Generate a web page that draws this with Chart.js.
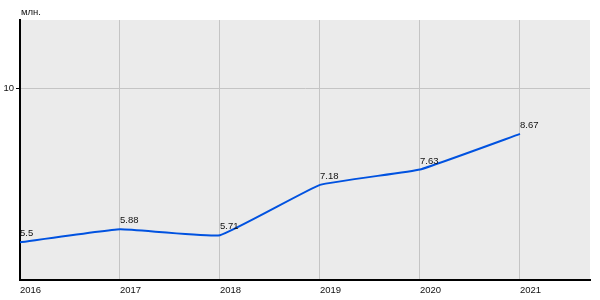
<!DOCTYPE html>
<html>
<head>
<meta charset="utf-8">
<script src="https://cdn.jsdelivr.net/npm/chart.js@4/dist/chart.umd.min.js"></script>
<style>
  html, body { margin: 0; padding: 0; background: #fff; }
  #wrap { width: 600px; height: 300px; }
</style>
</head>
<body>
<div id="wrap"><canvas id="chart" width="600" height="300"></canvas></div>
<script>
const YEARS = [2016, 2017, 2018, 2019, 2020, 2021];
const VALUES = [5.5, 5.88, 5.71, 7.18, 7.63, 8.67];
const LABELS = ['5.5', '5.88', '5.71', '7.18', '7.63', '8.67'];
const Y_TICKS = [10];
const UNIT = 'млн.';

const FONT = '"Liberation Sans", Arial, sans-serif';

// plot background + point labels + unit caption
const extras = {
  id: 'extras',
  beforeDraw(chart) {
    const { ctx, chartArea: a } = chart;
    ctx.save();
    ctx.fillStyle = '#ebebeb';
    ctx.fillRect(a.left, a.top, a.right - a.left, a.bottom - a.top);
    ctx.restore();
  },
  afterDatasetsDraw(chart) {
    const { ctx } = chart;
    const meta = chart.getDatasetMeta(0);
    ctx.save();
    ctx.font = '9.5px ' + FONT;
    ctx.fillStyle = '#111';
    ctx.textAlign = 'left';
    ctx.textBaseline = 'alphabetic';
    meta.data.forEach((pt, i) => {
      ctx.fillText(LABELS[i], pt.x, pt.y - 6);
    });
    ctx.fillText(UNIT, chart.chartArea.left + 1, 15);
    ctx.restore();
  },
};

new Chart(document.getElementById('chart'), {
  type: 'line',
  data: {
    datasets: [{
      data: YEARS.map((y, i) => ({ x: y, y: VALUES[i] })),
      borderColor: '#0052e0',
      borderWidth: 2,
      pointRadius: 0,
      tension: 0.1,
      fill: false,
    }],
  },
  options: {
    responsive: false,
    animation: false,
    layout: { padding: { top: 20, right: 10, left: 0, bottom: 0 } },
    plugins: { legend: { display: false }, tooltip: { enabled: false } },
    scales: {
      x: {
        type: 'linear',
        min: 2016,
        max: 2021.7,
        afterBuildTicks: s => { s.ticks = YEARS.map(v => ({ value: v })); },
        afterFit: s => { s.height = 20; },
        ticks: {
          align: 'start',
          padding: 5,
          color: '#111',
          font: { family: FONT, size: 9.5 },
          callback: v => String(v),
        },
        grid: { color: '#c4c4c4', lineWidth: 1, drawTicks: false },
        border: { color: '#000', width: 2 },
      },
      y: {
        min: 4.4,
        max: 12,
        afterBuildTicks: s => { s.ticks = Y_TICKS.map(v => ({ value: v })); },
        afterFit: s => { s.width = 20; },
        ticks: {
          padding: 2,
          color: '#111',
          font: { family: FONT, size: 9.5 },
        },
        grid: { color: '#c4c4c4', lineWidth: 1, tickLength: 4, tickColor: '#000' },
        border: { color: '#000', width: 2 },
      },
    },
  },
  plugins: [extras],
});
</script>
</body>
</html>
